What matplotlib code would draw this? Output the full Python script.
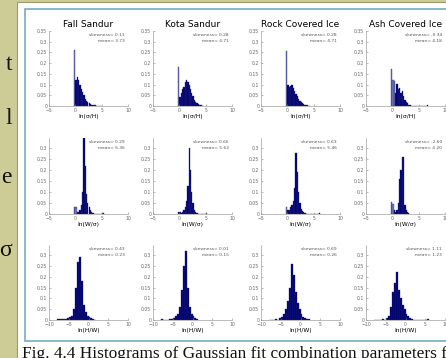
import numpy as np
import matplotlib.pyplot as plt
from matplotlib.patches import Rectangle
from matplotlib.ticker import FuncFormatter

W, H = 446, 358

sites = ['Fall Sandur', 'Kota Sandur', 'Rock Covered Ice', 'Ash Covered Ice']
xlabels = ['ln(σ/H)', 'ln(W/σ)', 'ln(H/W)']
xlims = [(-5, 10), (-5, 10), (-10, 10)]
xticks = [[-5, 0, 5, 10], [-5, 0, 5, 10], [-10, -5, 0, 5, 10]]
bin_start = [-0.25, -0.25, -8.0]
bin_width = [0.25, 0.25, 0.5]

# histogram heights (relative frequency), one list per row and site
row1 = [
    [0.26, 0.12, 0.135, 0.12, 0.10, 0.08, 0.065, 0.05, 0.035, 0.025, 0.018,
     0.012, 0.009, 0.006, 0.005, 0.004, 0.003, 0.002, 0.002, 0.001, 0.001],
    [0.18, 0.04, 0.06, 0.08, 0.09, 0.11, 0.12, 0.11, 0.10, 0.08, 0.06, 0.045,
     0.03, 0.02, 0.012, 0.008, 0.005, 0.003, 0.002, 0.001],
    [0.255, 0.10, 0.09, 0.095, 0.10, 0.085, 0.07, 0.055, 0.045, 0.035, 0.025,
     0.02, 0.015, 0.01, 0.007, 0.005, 0.003, 0.002, 0.001],
    [0.175, 0.12, 0.115, 0.06, 0.105, 0.08, 0.085, 0.06, 0.07, 0.045, 0.03,
     0.02, 0.012, 0.006, 0.003, 0, 0, 0, 0, 0, 0, 0, 0, 0, 0, 0, 0, 0.003],
]
row2 = [
    [0.03, 0.03, 0.01, 0.01, 0.02, 0.04, 0.10, 0.37, 0.22, 0.09, 0.05, 0.03,
     0.02, 0.01, 0.005, 0, 0, 0, 0, 0, 0, 0.003, 0.003],
    [0.01, 0.01, 0.005, 0.01, 0.02, 0.03, 0.06, 0.13, 0.30, 0.20, 0.10, 0.05,
     0.02, 0.01, 0.005, 0, 0, 0, 0, 0, 0, 0.003],
    [0.03, 0.02, 0.02, 0.03, 0.04, 0.06, 0.12, 0.28, 0.19, 0.10, 0.05, 0.025,
     0.015, 0.01, 0.005, 0, 0, 0, 0, 0, 0, 0, 0, 0, 0, 0.003],
    [0.055, 0.045, 0.02, 0.01, 0.02, 0.05, 0.16, 0.20, 0.26, 0.26, 0.04, 0.02,
     0.01, 0.005],
]
row3 = [
    [0.005, 0.003, 0.003, 0.003, 0.005, 0.008, 0.012, 0.02, 0.05, 0.15, 0.27,
     0.29, 0.18, 0.07, 0.035, 0.02, 0.012, 0.008, 0.004, 0.002],
    [0.005, 0, 0, 0, 0.003, 0.006, 0.01, 0.02, 0.03, 0.06, 0.14, 0.25, 0.32,
     0.15, 0.06, 0.03, 0.02, 0.01, 0.005],
    [0, 0, 0, 0.005, 0, 0.01, 0.015, 0.03, 0.05, 0.09, 0.15, 0.26, 0.21, 0.13,
     0.08, 0.05, 0.03, 0.015, 0.008, 0.004, 0.004],
    [0, 0, 0, 0, 0.005, 0, 0.01, 0.02, 0.06, 0.13, 0.17, 0.22, 0.14, 0.10,
     0.07, 0.05, 0.03, 0.02, 0.01, 0.005, 0, 0, 0, 0, 0, 0, 0, 0.005],
]
heights = [row1, row2, row3]
light_bars = [[[0], [0], [0], [0, 1, 2]],
              [[0, 1], [], [0], [0, 1]],
              [[], [], [], []]]

skewness = [['0.11', '0.28', '0.28', '-0.34'],
            ['0.29', '0.66', '0.63', '-2.60'],
            ['0.43', '0.01', '0.69', '1.11']]
means = [['3.73', '4.71', '4.71', '4.18'],
         ['6.36', '5.62', '5.46', '4.20'],
         ['0.23', '0.15', '0.26', '1.23']]

# axes boxes in pixels (from top-left)
col_left = [49, 153, 261, 366]
col_w = 79
row_top = [31, 138, 245]
row_h = [75, 76, 75]


def fig_rect(x, y, w, h):
    return [x / W, 1 - (y + h) / H, w / W, h / H]


fig = plt.figure(figsize=(W / 100, H / 100), dpi=100)
fig.patch.set_facecolor('#cdcb96')

fig.add_artist(Rectangle((17 / W, 0), 1, 1 - 2 / H, transform=fig.transFigure,
                         facecolor='white', edgecolor='#9c9b70', lw=0.8,
                         zorder=-2))
fig.add_artist(Rectangle((24.5 / W, 1 - 341 / H), 1, 332 / H,
                         transform=fig.transFigure, facecolor='white',
                         edgecolor='#6aa5bf', lw=1.1, zorder=-1))

for txt, yy in zip(['t', 'l', 'e', 'σ'], [70, 124, 183, 256]):
    fig.text(12 / W, 1 - yy / H, txt, ha='right', va='baseline',
             fontsize=17, family='Liberation Serif', color='#111')

fig.text(22 / W, 1 - 358 / H,
         'Fig. 4.4 Histograms of Gaussian fit combination parameters for',
         ha='left', va='baseline', fontsize=12.4, family='Liberation Serif',
         color='#111')

fmt = FuncFormatter(lambda v, p: '%g' % round(v, 2))

for r in range(3):
    for c in range(4):
        ax = fig.add_axes(fig_rect(col_left[c], row_top[r], col_w, row_h[r]))
        vals = np.array(heights[r][c])
        centers = bin_start[r] + bin_width[r] * (np.arange(len(vals)) + 0.5)
        colors = ['#00006e'] * len(vals)
        for i in light_bars[r][c]:
            colors[i] = '#767cb8'
        ax.bar(centers, vals, width=bin_width[r], color=colors,
               edgecolor='#20237e', linewidth=0.25)

        ax.set_xlim(xlims[r])
        ax.set_xticks(xticks[r])
        if r == 0:
            ax.set_ylim(0, 0.35)
            ax.set_yticks(np.arange(0, 0.351, 0.05))
            ax.set_title(sites[c], fontsize=6.5, pad=3)
        else:
            ax.set_ylim(0, 0.347)
            ax.set_yticks(np.arange(0, 0.301, 0.05))
        ax.yaxis.set_major_formatter(fmt)
        ax.set_xlabel(xlabels[r], fontsize=4.3, labelpad=1)

        for s in ['top', 'right']:
            ax.spines[s].set_visible(False)
        for s in ['left', 'bottom']:
            ax.spines[s].set_color('#a0a0a0')
            ax.spines[s].set_linewidth(0.5)
        ax.tick_params(direction='in', length=1.5, width=0.4, labelsize=3.3,
                       colors='#888', labelcolor='#666', pad=1.2)
        ax.set_facecolor('white')

        ax.text(0.96, 0.97, 'skewness= ' + skewness[r][c], ha='right',
                va='top', fontsize=3.2, color='#555', transform=ax.transAxes)
        ax.text(0.96, 0.89, 'mean= ' + means[r][c], ha='right',
                va='top', fontsize=3.2, color='#555', transform=ax.transAxes)

fig.savefig('out.png', dpi=100, facecolor=fig.get_facecolor())
